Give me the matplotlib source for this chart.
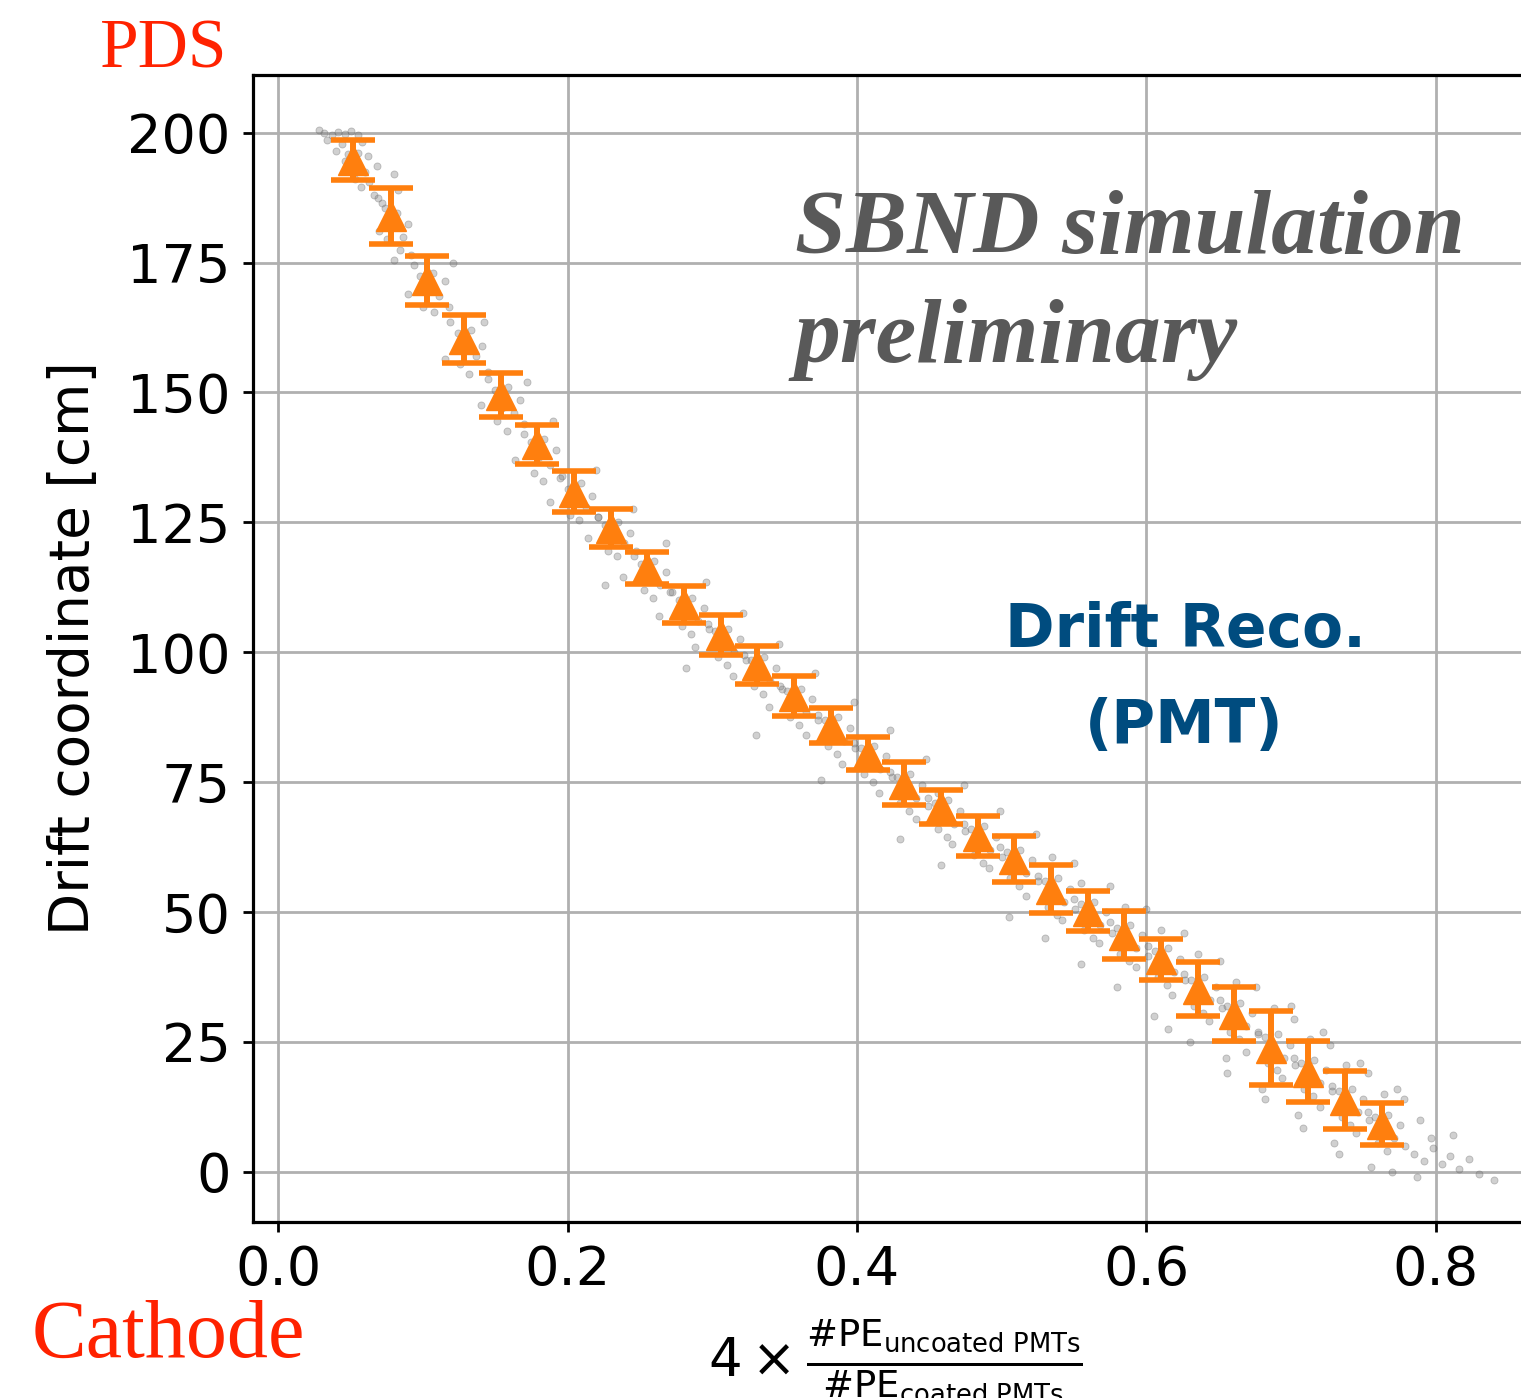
import matplotlib
matplotlib.use("Agg")
import matplotlib.pyplot as plt
import numpy as np

# ---------------- data ----------------
bin_x = [0.0517, 0.0779, 0.1028, 0.1284, 0.1540, 0.1788, 0.2044, 0.2299, 0.2548,
         0.2804, 0.3060, 0.3308, 0.3563, 0.3819, 0.4075, 0.4324, 0.4580, 0.4835,
         0.5084, 0.5340, 0.5595, 0.5844, 0.6099, 0.6355, 0.6603, 0.6859, 0.7114,
         0.7370, 0.7626]
bin_y = [194.7, 183.9, 171.6, 160.3, 149.5, 140.0, 130.9, 123.9, 116.2,
         109.2, 103.3, 97.5, 91.6, 85.9, 80.5, 74.7, 70.2, 64.6,
         60.2, 54.5, 50.2, 45.6, 40.9, 35.1, 30.3, 23.8, 19.3,
         13.8, 9.2]
bin_err = [3.85, 5.4, 4.7, 4.6, 4.2, 3.7, 3.9, 3.7, 3.1,
           3.6, 3.85, 3.7, 3.85, 3.4, 3.2, 4.1, 3.3, 3.85,
           4.4, 4.6, 3.85, 4.6, 3.9, 5.2, 5.2, 7.1, 5.9,
           5.6, 4.0]

scatter_pts = [
    (0.028, 200.5), (0.032, 200.0), (0.037, 199.5), (0.041, 200.2), (0.046, 199.8), (0.050, 200.4),
    (0.055, 199.6), (0.034, 198.5), (0.044, 197.8), (0.058, 198.3), (0.040, 196.5), (0.048, 195.8),
    (0.046, 194.5), (0.050, 193.0), (0.055, 196.0), (0.060, 192.5), (0.053, 191.0), (0.062, 195.5),
    (0.068, 193.5), (0.057, 189.5), (0.063, 190.5), (0.066, 188.0), (0.072, 186.5), (0.080, 192.0),
    (0.083, 189.0),
    (0.069, 187.5), (0.074, 185.5), (0.078, 182.0), (0.082, 184.5), (0.086, 180.0), (0.075, 179.5),
    (0.090, 182.5), (0.084, 177.5), (0.092, 176.5), (0.080, 175.5), (0.070, 181.0),
    (0.094, 174.5), (0.098, 172.5), (0.103, 170.0), (0.107, 173.0), (0.111, 168.5), (0.100, 166.5),
    (0.115, 171.5), (0.108, 165.5), (0.118, 166.5), (0.090, 169.0), (0.121, 175.0),
    (0.119, 163.5), (0.124, 161.5), (0.128, 158.5), (0.133, 162.0), (0.137, 157.0), (0.126, 155.5),
    (0.141, 159.0), (0.132, 153.5), (0.145, 154.0), (0.115, 156.5), (0.142, 163.5),
    (0.145, 152.5), (0.150, 150.5), (0.155, 147.0), (0.159, 151.0), (0.163, 146.0), (0.151, 144.5),
    (0.167, 148.5), (0.158, 142.5), (0.170, 144.0), (0.140, 147.5), (0.172, 152.0),
    (0.170, 142.0), (0.175, 140.5), (0.180, 137.5), (0.184, 141.0), (0.188, 136.0), (0.177, 134.5),
    (0.192, 139.0), (0.183, 133.0), (0.196, 134.0), (0.164, 137.0), (0.190, 144.5),
    (0.195, 133.5), (0.200, 131.5), (0.205, 129.0), (0.209, 132.5), (0.213, 128.0), (0.202, 126.5),
    (0.217, 130.0), (0.208, 125.5), (0.221, 126.0), (0.188, 129.0), (0.220, 135.0),
    (0.221, 126.0), (0.226, 124.5), (0.231, 122.0), (0.235, 125.0), (0.239, 121.0), (0.228, 119.5),
    (0.243, 123.0), (0.234, 118.5), (0.247, 119.5), (0.214, 122.0), (0.245, 127.5),
    (0.246, 118.5), (0.251, 117.0), (0.256, 114.5), (0.260, 117.5), (0.264, 113.0), (0.253, 112.0),
    (0.268, 115.5), (0.259, 110.5), (0.272, 111.5), (0.238, 114.5), (0.268, 121.0), (0.226, 113.0),
    (0.271, 111.5), (0.277, 110.0), (0.282, 107.5), (0.286, 110.5), (0.290, 106.0), (0.279, 105.0),
    (0.294, 108.5), (0.285, 103.5), (0.298, 104.5), (0.263, 107.0), (0.296, 113.5),
    (0.297, 105.5), (0.302, 104.0), (0.307, 101.5), (0.311, 104.5), (0.315, 100.0), (0.304, 99.0),
    (0.319, 102.5), (0.310, 97.5), (0.323, 98.5), (0.288, 101.0), (0.321, 107.5), (0.282, 97.0),
    (0.322, 99.5), (0.327, 98.5), (0.332, 96.0), (0.336, 99.0), (0.340, 94.5), (0.329, 93.5),
    (0.344, 97.0), (0.335, 92.0), (0.348, 93.0), (0.314, 95.5), (0.346, 101.5),
    (0.347, 93.5), (0.352, 92.5), (0.357, 90.0), (0.361, 93.0), (0.365, 88.5), (0.354, 87.5),
    (0.369, 91.0), (0.360, 86.0), (0.373, 87.0), (0.339, 89.5), (0.371, 96.0), (0.330, 84.0),
    (0.373, 88.0), (0.378, 87.0), (0.383, 84.5), (0.387, 87.5), (0.391, 83.0), (0.380, 82.0),
    (0.395, 85.5), (0.386, 80.5), (0.399, 81.5), (0.365, 84.0), (0.398, 90.5),
    (0.398, 82.5), (0.403, 81.5), (0.408, 79.0), (0.412, 82.0), (0.416, 77.5), (0.405, 76.5),
    (0.420, 80.0), (0.411, 75.0), (0.424, 76.0), (0.390, 78.5), (0.423, 85.0), (0.375, 75.5),
    (0.423, 77.0), (0.428, 76.0), (0.433, 73.5), (0.437, 76.5), (0.441, 72.0), (0.430, 71.0),
    (0.445, 74.5), (0.436, 69.5), (0.449, 70.5), (0.415, 73.0), (0.448, 79.5), (0.456, 73.0),
    (0.449, 72.0), (0.454, 71.0), (0.459, 68.5), (0.463, 71.5), (0.467, 67.0), (0.456, 66.0),
    (0.471, 69.5), (0.462, 64.5), (0.475, 65.5), (0.441, 68.0), (0.474, 74.5), (0.430, 64.0),
    (0.474, 67.0), (0.479, 66.0), (0.484, 63.5), (0.488, 66.5), (0.492, 62.0), (0.481, 61.0),
    (0.496, 64.5), (0.487, 59.5), (0.500, 60.5), (0.466, 63.0), (0.499, 69.5), (0.458, 59.0),
    (0.499, 62.5), (0.504, 61.5), (0.509, 59.0), (0.513, 62.0), (0.517, 57.5), (0.506, 56.5),
    (0.521, 60.0), (0.512, 55.0), (0.525, 56.0), (0.491, 58.5), (0.524, 65.0), (0.535, 60.5),
    (0.525, 57.0), (0.530, 56.0), (0.535, 53.5), (0.539, 56.5), (0.543, 52.0), (0.532, 51.0),
    (0.547, 54.5), (0.538, 49.5), (0.551, 50.5), (0.517, 53.0), (0.550, 59.5), (0.505, 49.0),
    (0.555, 55.5),
    (0.550, 52.5), (0.555, 51.5), (0.560, 49.0), (0.564, 52.0), (0.568, 47.5), (0.557, 46.5),
    (0.572, 50.0), (0.563, 45.0), (0.576, 46.0), (0.542, 48.5), (0.575, 55.0), (0.530, 45.0),
    (0.585, 51.0),
    (0.575, 48.0), (0.580, 47.0), (0.585, 44.5), (0.589, 47.5), (0.593, 43.0), (0.582, 42.0),
    (0.597, 45.5), (0.588, 40.5), (0.601, 41.5), (0.567, 44.0), (0.600, 50.5), (0.555, 40.0),
    (0.610, 46.5),
    (0.601, 43.5), (0.606, 42.5), (0.611, 40.0), (0.615, 43.0), (0.619, 38.5), (0.608, 37.5),
    (0.623, 41.0), (0.614, 36.0), (0.627, 37.0), (0.593, 39.5), (0.626, 46.0), (0.580, 35.5),
    (0.636, 42.0),
    (0.626, 38.0), (0.631, 37.0), (0.636, 34.5), (0.640, 37.5), (0.644, 33.0), (0.633, 32.0),
    (0.648, 35.5), (0.639, 30.5), (0.652, 31.5), (0.618, 34.0), (0.651, 40.5), (0.605, 30.0),
    (0.662, 36.5), (0.615, 27.5),
    (0.651, 33.0), (0.656, 32.0), (0.661, 29.5), (0.665, 32.5), (0.669, 28.0), (0.658, 27.0),
    (0.673, 30.5), (0.664, 25.5), (0.677, 26.5), (0.643, 29.0), (0.676, 35.5), (0.630, 25.0),
    (0.688, 31.5), (0.655, 22.0),
    (0.677, 27.0), (0.682, 26.0), (0.687, 23.5), (0.691, 26.5), (0.695, 22.0), (0.684, 21.0),
    (0.699, 24.5), (0.690, 19.5), (0.703, 20.5), (0.669, 23.0), (0.702, 29.5), (0.656, 19.0),
    (0.713, 25.5), (0.680, 16.0), (0.700, 32.0),
    (0.702, 22.0), (0.707, 21.0), (0.712, 18.5), (0.716, 21.5), (0.720, 17.0), (0.709, 16.0),
    (0.724, 19.5), (0.715, 14.5), (0.728, 15.5), (0.694, 18.0), (0.727, 24.5), (0.682, 14.0),
    (0.738, 20.5), (0.705, 11.0), (0.722, 27.0),
    (0.728, 16.5), (0.733, 15.5), (0.738, 13.0), (0.742, 16.0), (0.746, 11.5), (0.735, 10.5),
    (0.750, 14.0), (0.741, 9.0), (0.754, 10.0), (0.720, 12.5), (0.753, 19.0), (0.708, 8.5),
    (0.764, 15.0), (0.730, 5.5), (0.748, 21.0),
    (0.753, 11.5), (0.758, 10.5), (0.763, 8.0), (0.767, 11.0), (0.771, 6.5), (0.760, 5.5),
    (0.775, 9.0), (0.766, 4.0), (0.779, 5.0), (0.745, 7.5), (0.778, 14.0), (0.733, 3.5),
    (0.789, 10.0), (0.755, 1.0), (0.773, 16.0),
    (0.785, 3.5), (0.792, 2.0), (0.798, 4.5), (0.804, 1.5), (0.797, 6.5), (0.810, 3.0),
    (0.816, 0.5), (0.823, 2.5), (0.830, -0.5), (0.812, 7.0), (0.787, -1.0), (0.770, 0.0),
    (0.840, -1.5),
]
scatter_x = [p[0] for p in scatter_pts]
scatter_y = [p[1] for p in scatter_pts]

x_ticks = [0.0, 0.2, 0.4, 0.6, 0.8]
x_ticklabels = ["0.0", "0.2", "0.4", "0.6", "0.8"]
y_ticks = [0, 25, 50, 75, 100, 125, 150, 175, 200]
y_ticklabels = ["0", "25", "50", "75", "100", "125", "150", "175", "200"]

# ---------------- figure ----------------
W, H = 1521, 1398
plt.rcParams['mathtext.fontset'] = 'dejavusans'
fig = plt.figure(figsize=(W / 100, H / 100), dpi=100)

ax_left, ax_bottom = 253 / W, 1 - 1222 / H
ax_w, ax_h = 1284 / W, (1222 - 75) / H
ax = fig.add_axes([ax_left, ax_bottom, ax_w, ax_h])

ax.scatter(scatter_x, scatter_y, s=26, color='#7a7a7a', alpha=0.35,
           edgecolors='#606060', linewidths=0.6, zorder=2)
ax.errorbar(bin_x, bin_y, yerr=bin_err, fmt='^', color='#ff7f0e', ms=21,
            elinewidth=4.3, capsize=16, capthick=4.0, zorder=3)

ax.set_xlim(-0.0174, 0.87)
ax.set_ylim(-9.66, 211.1)
ax.set_xticks(x_ticks)
ax.set_xticklabels(x_ticklabels)
ax.set_yticks(y_ticks)
ax.set_yticklabels(y_ticklabels)
ax.grid(True, color='#b0b0b0', linewidth=2.0, zorder=0)
ax.set_axisbelow(True)
ax.tick_params(axis='both', labelsize=39, length=7, width=2, pad=9)
for sp in ax.spines.values():
    sp.set_linewidth(2.3)

ax.set_ylabel("Drift coordinate [cm]", fontsize=39.5)
ax.yaxis.set_label_coords(-0.118, 0.5)
ax.set_xlabel(r"$4\times\frac{\#\mathrm{PE}_{\mathrm{uncoated\ PMTs}}}{\#\mathrm{PE}_{\mathrm{coated\ PMTs}}}$",
              fontsize=38, va='top')
ax.xaxis.set_label_coords(0.5, -0.0837)

# annotations
fig.text(100 / W, 1 - 68 / H, "PDS", family='Liberation Serif', fontsize=50,
         color='#ff2200', va='baseline', ha='left')
fig.text(32 / W, 1 - 1357 / H, "Cathode", family='Liberation Serif', fontsize=59,
         color='#ff2200', va='baseline', ha='left')
fig.text(795 / W, 1 - 253 / H, "SBND simulation", family='Liberation Serif',
         fontsize=66, weight='bold', style='italic', color='#595959',
         va='baseline', ha='left')
fig.text(795 / W, 1 - 362 / H, "preliminary", family='Liberation Serif',
         fontsize=66, weight='bold', style='italic', color='#595959',
         va='baseline', ha='left')
fig.text(1185 / W, 1 - 647 / H, "Drift Reco.", family='DejaVu Sans',
         fontsize=43, weight='bold', color='#004C7F', va='baseline', ha='center')
fig.text(1184 / W, 1 - 743 / H, "(PMT)", family='DejaVu Sans',
         fontsize=43, weight='bold', color='#004C7F', va='baseline', ha='center')

fig.savefig("out.png", dpi=100)
